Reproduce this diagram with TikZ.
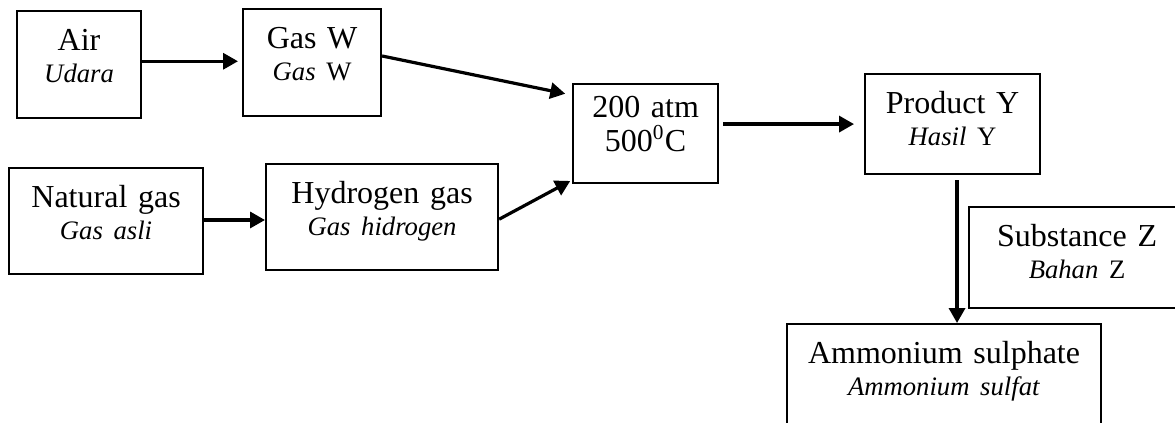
\documentclass[tikz,border=0pt]{standalone}
\usepackage{fontspec}
\setmainfont{Liberation Serif}
\usetikzlibrary{arrows.meta,calc}
\newcommand{\malay}[1]{{\fontsize{10}{12}\selectfont #1}}

\begin{document}
\begin{tikzpicture}[
    x=0.375pt, y=-0.375pt,
    box/.style={rectangle, draw, line width=0.8pt, anchor=north west, inner sep=0pt, execute at begin node=\centering, font=\fontsize{12}{12}\selectfont, text height=14.8pt},
    arrow/.style={-{Triangle[length=5.6pt,width=6pt]}, line width=1.2pt}
]

\useasboundingbox (0,0) rectangle (1175,422);
\clip (0,0) rectangle (1175,422);

% Top row
\node[box, text width=46.5pt, text depth=25.3pt] (air) at (16,10) {Air\\\malay{\textit{Udara}}};
\node[box, text width=51.75pt, text depth=25.3pt] (gasw) at (242,8) {Gas W\\\malay{\textit{Gas} W}};

% Bottom row
\node[box, text width=72.75pt, text depth=24.95pt] (nat) at (8,167) {Natural gas\\\malay{\textit{Gas asli}}};
\node[box, text width=87pt, text depth=24.95pt] (hyd) at (265,163) {Hydrogen gas\\\malay{\textit{Gas hidrogen}}};

% Reaction conditions and product
\node[box, text width=54.4pt, text height=12.4pt, text depth=24.7pt, font=\fontsize{12}{12.75}\selectfont] (cond) at (572,83) {200 atm\\500\textsuperscript{0}C};
\node[box, text width=65.6pt, text depth=22.7pt] (prod) at (864,73) {Product Y\\\malay{\textit{Hasil} Y}};

% Last step (boxes run past the page edge)
\node[box, text width=81pt, text depth=23.1pt] (subz) at (968,206) {Substance Z\hspace*{4pt}\\\malay{\textit{Bahan} Z}\hspace*{4pt}};
\node[box, text width=117.75pt, text depth=33.95pt] (amm) at (786,323) {Ammonium sulphate\\\malay{\textit{Ammonium sulfat}}};

% Arrow ends
\coordinate (airout) at ($(air.north east)!0.47!(air.south east)$);
\coordinate (gaswout) at ($(gasw.north east)!0.44!(gasw.south east)$);
\coordinate (condtop) at ($(cond.north west)!0.12!(cond.south west)$);
\coordinate (natout) at ($(nat.north east)!0.49!(nat.south east)$);
\coordinate (hydout) at ($(hyd.north east)!0.52!(hyd.south east)$);
\coordinate (condbot) at ($(cond.north west)!0.96!(cond.south west)$);
\coordinate (prodout) at ($(prod.south)+(4.5,0)$);

% Arrows
\draw[arrow, shorten >=1.5pt] (airout) -- (airout -| gasw.west);
\draw[arrow, shorten >=2.6pt] (gaswout) -- (condtop);
\draw[arrow] (natout) -- (natout -| hyd.west);
\draw[arrow, shorten >=0.75pt] (hydout) -- (condbot);
\draw[arrow, shorten <=1.5pt, shorten >=3.75pt] (cond.east |- prod.west) -- (prod.west);
\draw[arrow, shorten <=1.9pt] (prodout) -- (prodout |- amm.north);

\end{tikzpicture}
\end{document}
